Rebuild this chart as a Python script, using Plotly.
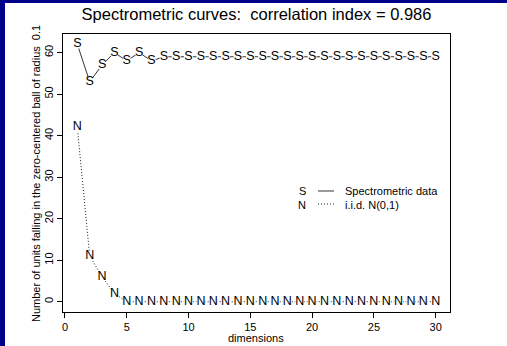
import plotly.graph_objects as go

dims = list(range(1, 31))
spectro = [62, 53, 57, 60, 58, 60, 58, 59] + [59] * 22
iid = [42, 11, 6, 2] + [0] * 26
x_ticks = [0, 5, 10, 15, 20, 25, 30]
y_ticks = [0, 10, 20, 30, 40, 50, 60]

FONT = "Liberation Sans, Arial, sans-serif"

fig = go.Figure()
fig.add_trace(go.Scatter(
    x=dims, y=spectro, mode="lines+markers+text", text=["S"] * len(dims),
    textposition="middle center", textfont=dict(family=FONT, size=12.5, color="black"),
    line=dict(color="black", width=0.8, dash="solid"),
    marker=dict(color="white", size=9, symbol="circle", line=dict(width=0)),
    showlegend=False, cliponaxis=False))
fig.add_trace(go.Scatter(
    x=dims, y=iid, mode="lines+markers+text", text=["N"] * len(dims),
    textposition="middle center", textfont=dict(family=FONT, size=12.5, color="black"),
    line=dict(color="black", width=0.9, dash="1px,2px"),
    marker=dict(color="white", size=9, symbol="circle", line=dict(width=0)),
    showlegend=False, cliponaxis=False))

L, R, T, B = 63, 57, 34, 34
W, H = 507, 346
pw, ph = W - L - R, H - T - B

def px(xp):
    return (xp - L) / pw

def py(yp):
    return (H - B - yp) / ph

shapes = [
    dict(type="rect", xref="paper", yref="paper", x0=px(0), x1=px(5), y0=py(H), y1=py(0),
         fillcolor="#000088", line=dict(width=0), layer="above"),
    dict(type="rect", xref="paper", yref="paper", x0=px(0), x1=px(W), y0=py(3), y1=py(0),
         fillcolor="#000088", line=dict(width=0), layer="above"),
    dict(type="line", xref="paper", yref="paper", x0=px(318), x1=px(334), y0=py(191), y1=py(191),
         line=dict(color="black", width=0.8)),
    dict(type="line", xref="paper", yref="paper", x0=px(318), x1=px(334), y0=py(204), y1=py(204),
         line=dict(color="black", width=0.9, dash="1px,2px")),
]
annotations = [
    dict(xref="paper", yref="paper", x=px(302), y=py(190.5), text="S", showarrow=False,
         font=dict(family=FONT, size=11, color="black"), xanchor="center", yanchor="middle"),
    dict(xref="paper", yref="paper", x=px(302), y=py(204.5), text="N", showarrow=False,
         font=dict(family=FONT, size=11, color="black"), xanchor="center", yanchor="middle"),
    dict(xref="paper", yref="paper", x=px(343), y=py(190.5), text="Spectrometric data", showarrow=False,
         font=dict(family=FONT, size=11, color="black"), xanchor="left", yanchor="middle"),
    dict(xref="paper", yref="paper", x=px(343), y=py(204.5), text="i.i.d. N(0,1)", showarrow=False,
         font=dict(family=FONT, size=11, color="black"), xanchor="left", yanchor="middle"),
    dict(xref="paper", yref="paper", x=px(256), y=py(338), text="dimensions", showarrow=False,
         font=dict(family=FONT, size=11, color="black"), xanchor="center", yanchor="middle"),
    dict(xref="paper", yref="paper", x=px(36), y=py(174),
         text="Number of units falling in the zero-centered ball of radius  0.1", showarrow=False,
         textangle=-90, font=dict(family=FONT, size=11, color="black"),
         xanchor="center", yanchor="middle"),
]

fig.update_layout(
    width=W, height=H,
    margin=dict(l=L, r=R, t=T, b=B, autoexpand=False),
    paper_bgcolor="white", plot_bgcolor="white",
    font=dict(family=FONT, color="black"),
    title=dict(text="Spectrometric curves:  correlation index = 0.986",
               x=0.5, xref="paper", xanchor="center",
               y=1 - 14 / H, yanchor="middle",
               font=dict(family=FONT, size=16.5, color="black")),
    shapes=shapes, annotations=annotations,
    xaxis=dict(range=[-0.16, 31.16], tickvals=x_ticks, ticks="outside", ticklen=5,
               tickcolor="black", showgrid=False, zeroline=False, showline=True,
               linecolor="black", linewidth=1, mirror=True, automargin=False,
               tickfont=dict(size=11, color="black")),
    yaxis=dict(range=[-2.48, 64.48], tickvals=y_ticks, ticks="outside", ticklen=5,
               tickcolor="black", showgrid=False, zeroline=False, showline=True,
               linecolor="black", linewidth=1, mirror=True, tickangle=-90, automargin=False,
               tickfont=dict(size=11, color="black")),
)

fig.write_html("out.html", config={"displayModeBar": False},
               post_script="document.body.style.margin='0';")
